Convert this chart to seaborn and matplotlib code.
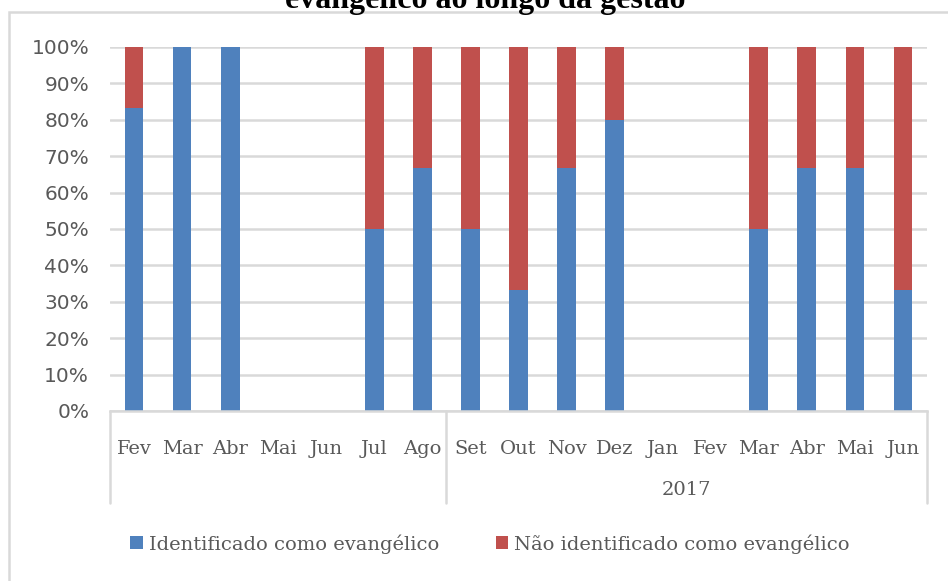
import matplotlib
matplotlib.use("Agg")
import matplotlib.pyplot as plt
import seaborn as sns
import pandas as pd
from matplotlib.patches import Patch, Rectangle

months = ["Fev", "Mar", "Abr", "Mai", "Jun", "Jul", "Ago", "Set", "Out",
          "Nov", "Dez", "Jan", "Fev", "Mar", "Abr", "Mai", "Jun"]
identificado = [83.3, 100, 100, 0, 0, 50, 66.7, 50, 33.3, 66.7, 80, 0, 0, 50, 66.7, 66.7, 33.3]
nao_identificado = [16.7, 0, 0, 0, 0, 50, 33.3, 50, 66.7, 33.3, 20, 0, 0, 50, 33.3, 33.3, 66.7]
group_labels = ["", "2017"]
group_bounds = [(0, 6), (7, 16)]
series_names = ["Identificado como evangélico", "Não identificado como evangélico"]
title = "evangélico ao longo da gestão"

BLUE = "#4F81BD"
RED = "#C0504D"
GRID = "#D9D9D9"
TXT = "#595959"

sns.set_theme(style="white")

df = pd.DataFrame({
    "pos": list(range(len(months))),
    "ident": identificado,
    "total": [a + b for a, b in zip(identificado, nao_identificado)],
})

W, H = 948, 581
fig = plt.figure(figsize=(W / 100, H / 100), dpi=100)
ax = fig.add_axes([110 / W, 1 - 411 / H, (927 - 110) / W, (411 - 47) / H])

sns.barplot(data=df, x="pos", y="total", color=RED, saturation=1, width=0.39,
            ax=ax, linewidth=0, zorder=3)
sns.barplot(data=df, x="pos", y="ident", color=BLUE, saturation=1, width=0.39,
            ax=ax, linewidth=0, zorder=4)

ax.set_xlim(-0.5, len(months) - 0.5)
ax.set_ylim(0, 100)
ax.set_yticks(range(0, 101, 10))
ax.set_yticklabels([f"{v}%" for v in range(0, 101, 10)], fontsize=14.5,
                   color=TXT, family="DejaVu Sans")
ax.set_xticks(range(len(months)))
ax.set_xticklabels(months, fontsize=14, color=TXT, family="DejaVu Serif")
ax.tick_params(axis="x", length=0, pad=21)
ax.tick_params(axis="y", length=0, pad=15)
ax.set_xlabel("")
ax.set_ylabel("")
ax.yaxis.grid(True, color=GRID, linewidth=1.8, zorder=0)
ax.set_axisbelow(True)
for s in ["top", "right", "left"]:
    ax.spines[s].set_visible(False)
ax.spines["bottom"].set_color(GRID)
ax.spines["bottom"].set_linewidth(1.8)
ax.spines["bottom"].set_zorder(5)

# group separators and labels
trans = ax.get_xaxis_transform()
sep_len = (503 - 411) / (411 - 47)
edges = sorted({b[0] - 0.5 for b in group_bounds} | {b[1] + 0.5 for b in group_bounds})
for e in edges:
    ax.plot([e, e], [0, -sep_len], transform=trans, color=GRID, linewidth=1.8,
            clip_on=False, zorder=5)
for lab, (a, b) in zip(group_labels, group_bounds):
    if lab:
        ax.text((a + b) / 2, -(490 - 411) / (411 - 47), lab, transform=trans,
                ha="center", va="center", fontsize=14, color=TXT, family="DejaVu Serif")

# legend
handles = [Patch(facecolor=BLUE, edgecolor="none"), Patch(facecolor=RED, edgecolor="none")]
leg = fig.legend(handles, series_names, loc="center", bbox_to_anchor=(490 / W, 1 - 544 / H),
                 ncol=2, frameon=False, handlelength=0.65, handleheight=0.65,
                 handletextpad=0.3, columnspacing=2.9,
                 prop={"family": "DejaVu Serif", "size": 14})
for t in leg.get_texts():
    t.set_color(TXT)

# outer chart border
fig.patches.append(Rectangle((9 / W, -0.1), 1.2, 1.1 - 12 / H, transform=fig.transFigure,
                             fill=False, edgecolor=GRID, linewidth=1.8))

# title (partially cut off at the top, as in the reference)
fig.text(485 / W, 1 - 8 / H, title, ha="center", va="baseline", fontsize=23,
         fontweight="bold", family="Liberation Serif", color="black")

fig.savefig("out.png", dpi=100)
